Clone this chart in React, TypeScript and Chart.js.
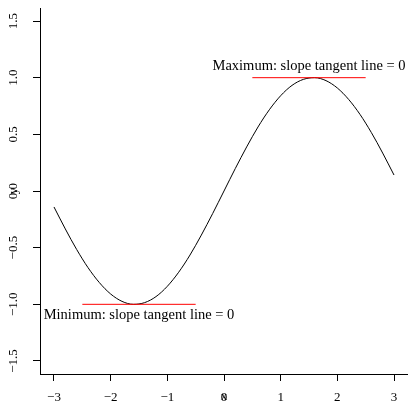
import React, { useEffect, useRef } from 'react';
import { Chart, registerables } from 'chart.js';

Chart.register(...registerables);

const curveX = [-3.0, -2.8, -2.6, -2.4, -2.2, -2.0, -1.8, -1.6, -1.4, -1.2, -1.0, -0.8, -0.6, -0.4, -0.2, 0.0,
  0.2, 0.4, 0.6, 0.8, 1.0, 1.2, 1.4, 1.6, 1.8, 2.0, 2.2, 2.4, 2.6, 2.8, 3.0];
const curveY = [-0.141, -0.335, -0.516, -0.676, -0.808, -0.909, -0.974, -1.0, -0.985, -0.932, -0.841, -0.717, -0.565, -0.389, -0.199, 0.0,
  0.199, 0.389, 0.565, 0.717, 0.841, 0.932, 0.985, 1.0, 0.974, 0.909, 0.808, 0.676, 0.516, 0.335, 0.141];

const minTangentX = [-2.5, -0.5];
const minTangentY = [-1, -1];
const maxTangentX = [0.5, 2.5];
const maxTangentY = [1, 1];

const xTicks = [-3, -2, -1, 0, 1, 2, 3];
const yTicks = [-1.5, -1.0, -0.5, 0.0, 0.5, 1.0, 1.5];

const noteText = ['Maximum: slope tangent line = 0', 'Minimum: slope tangent line = 0'];
const noteX = [1.5, -1.5];
const noteY = [1.1, -1.1];

const xTitle = 'x';
const yTitle = 'y';

const SERIF = '"Liberation Serif", "Times New Roman", serif';
const minus = (s: string) => s.replace('-', '\u2212');

export default function App() {
  const ref = useRef<HTMLCanvasElement | null>(null);

  useEffect(() => {
    if (!ref.current) return;

    const overlay = {
      id: 'overlay',
      afterDraw(chart: any) {
        const { ctx, scales } = chart;
        const xs = scales.x;
        const ys = scales.y;
        ctx.save();
        ctx.fillStyle = '#000';
        ctx.textAlign = 'center';
        ctx.textBaseline = 'middle';
        ctx.font = `14.5px ${SERIF}`;
        for (let i = 0; i < noteText.length; i++) {
          ctx.fillText(noteText[i], xs.getPixelForValue(noteX[i]), ys.getPixelForValue(noteY[i]));
        }
        ctx.font = `13px ${SERIF}`;
        // x title, on the tick label row
        const xl = xs._labelItems && xs._labelItems[0];
        ctx.textBaseline = 'top';
        const ty = xl ? xl.options.translation[1] : xs.top + 17;
        ctx.fillText(xTitle, (xs.left + xs.right) / 2, ty);
        // y title, rotated, on the tick label column
        const yl = ys._labelItems && ys._labelItems[0];
        const tx = yl ? yl.options.translation[0] : 13;
        ctx.translate(tx, (ys.top + ys.bottom) / 2);
        ctx.rotate(-Math.PI / 2);
        ctx.textBaseline = 'middle';
        ctx.fillText(yTitle, 0, 0);
        ctx.restore();
      },
    };

    const chart = new Chart(ref.current, {
      type: 'scatter',
      data: {
        datasets: [
          {
            data: curveX.map((x, i) => ({ x, y: curveY[i] })),
            showLine: true,
            borderColor: '#000000',
            borderWidth: 1,
            pointRadius: 0,
            cubicInterpolationMode: 'monotone',
            order: 3,
          },
          {
            data: minTangentX.map((x, i) => ({ x, y: minTangentY[i] })),
            showLine: true,
            borderColor: 'rgb(255,0,0)',
            borderWidth: 1,
            pointRadius: 0,
            order: 1,
          },
          {
            data: maxTangentX.map((x, i) => ({ x, y: maxTangentY[i] })),
            showLine: true,
            borderColor: 'rgb(255,0,0)',
            borderWidth: 1,
            pointRadius: 0,
            order: 2,
          },
        ],
      },
      options: {
        animation: false,
        responsive: false,
        devicePixelRatio: 1,
        layout: { padding: { top: 8, right: 0, left: 0, bottom: 0 } },
        plugins: { legend: { display: false }, tooltip: { enabled: false } },
        scales: {
          x: {
            type: 'linear',
            min: -3.247,
            max: 3.247,
            afterBuildTicks: (s: any) => { s.ticks = xTicks.map((v) => ({ value: v })); },
            afterFit: (s: any) => { s.height = 36; s.paddingLeft = 0; s.paddingRight = 0; },
            grid: { display: true, drawOnChartArea: false, drawTicks: true, tickLength: 7, color: '#000', lineWidth: 1 },
            border: { display: true, color: '#000', width: 1 },
            ticks: {
              color: '#000',
              font: { family: SERIF, size: 13 },
              padding: 9,
              maxRotation: 0,
              minRotation: 0,
              autoSkip: false,
              callback: (v: any) => minus(String(v)),
            },
          },
          y: {
            type: 'linear',
            min: -1.615,
            max: 1.615,
            afterBuildTicks: (s: any) => { s.ticks = yTicks.map((v) => ({ value: v })); },
            afterFit: (s: any) => { s.width = 40; s.paddingTop = 0; s.paddingBottom = 0; },
            grid: { display: true, drawOnChartArea: false, drawTicks: true, tickLength: 7, color: '#000', lineWidth: 1 },
            border: { display: true, color: '#000', width: 1 },
            ticks: {
              color: '#000',
              font: { family: SERIF, size: 13 },
              padding: 8,
              minRotation: 90,
              maxRotation: 90,
              crossAlign: 'center',
              autoSkip: false,
              callback: (v: any) => minus(Number(v).toFixed(1)),
            },
          },
        },
      },
      plugins: [overlay],
    } as any);

    return () => chart.destroy();
  }, []);

  return (
    <div style={{ position: 'absolute', left: 0, top: 0, width: 408, height: 410, background: '#fff' }}>
      <canvas ref={ref} width={408} height={410} style={{ display: 'block' }} />
    </div>
  );
}
